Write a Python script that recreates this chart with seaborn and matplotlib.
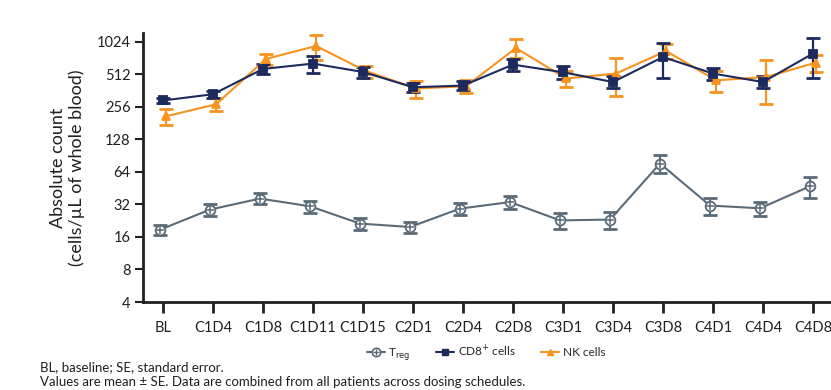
"""Absolute counts of Treg, CD8+ and NK cells by visit (log2 axis)."""

import matplotlib
matplotlib.use("Agg")
import matplotlib.pyplot as plt
from matplotlib.lines import Line2D
import numpy as np
import pandas as pd
import seaborn as sns

# Data
visits = ["BL", "C1D4", "C1D8", "C1D11", "C1D15", "C2D1", "C2D4",
          "C2D8", "C3D1", "C3D4", "C3D8", "C4D1", "C4D4", "C4D8"]

treg_mean = [18.7, 28.7, 36.3, 30.8, 21.3, 19.8, 29.3,
             33.7, 22.8, 23.2, 76.6, 31.3, 29.5, 47.2]
treg_se = [2.1, 3.9, 4.2, 3.9, 2.7, 2.2, 3.5,
           4.8, 3.9, 4.1, 14.4, 5.5, 4.3, 10.7]

cd8_mean = [294, 336, 576, 646, 540, 390, 404,
            632, 537, 436, 743, 522, 436, 800]
cd8_se = [17, 25, 58, 120, 60, 35, 38,
          79, 74, 56, 263, 68, 56, 325]

nk_mean = [210, 271, 713, 940, 550, 380, 398,
           900, 470, 522, 845, 452, 485, 660]
nk_se = [35, 37, 80, 240, 70, 70, 56,
         180, 80, 200, 130, 100, 210, 115]

TREG_COLOR = "#5b6a78"
CD8_COLOR = "#1c2a5e"
NK_COLOR = "#f7931e"
INK = "#231f20"


def main():
    sns.set_style("ticks")
    plt.rcParams["font.family"] = ["Lato", "DejaVu Sans"]

    pos = np.arange(len(visits))
    df = pd.DataFrame({
        "pos": np.concatenate([pos - 0.06, pos, pos + 0.06]),
        "value": treg_mean + cd8_mean + nk_mean,
        "se": treg_se + cd8_se + nk_se,
        "series": ["treg"] * len(visits) + ["cd8"] * len(visits) + ["nk"] * len(visits),
    })

    fig = plt.figure(figsize=(8.31, 3.9), dpi=100)
    ax = fig.add_axes([143 / 831, 88 / 390, 690 / 831, 269 / 390])

    styles = {
        "treg": dict(color=TREG_COLOR, marker="o", ms=7, mfc="white"),
        "nk": dict(color=NK_COLOR, marker="^", ms=6, mfc=NK_COLOR),
        "cd8": dict(color=CD8_COLOR, marker="s", ms=6, mfc=CD8_COLOR),
    }

    for name in ["treg", "nk", "cd8"]:
        sub = df[df["series"] == name]
        st = styles[name]
        ax.errorbar(sub["pos"], sub["value"], yerr=sub["se"], fmt="none",
                    ecolor=st["color"], elinewidth=1.6, capsize=5, capthick=2,
                    zorder=2)
        sns.lineplot(data=sub, x="pos", y="value", color=st["color"],
                     marker=st["marker"], markersize=st["ms"],
                     markerfacecolor=st["mfc"], markeredgecolor=st["color"],
                     markeredgewidth=1.3, linewidth=1.5, errorbar=None,
                     ax=ax, zorder=3)
        if name == "treg":
            sns.scatterplot(data=sub, x="pos", y="value", marker="+", s=30,
                            color=st["color"], linewidth=1.1, ax=ax, zorder=4)

    ax.set_yscale("log", base=2)
    ax.set_ylim(4, 1240)
    yt = [4, 8, 16, 32, 64, 128, 256, 512, 1024]
    ax.set_yticks(yt)
    ax.set_yticklabels([str(v) for v in yt])
    ax.minorticks_off()
    ax.set_xlim(-0.4, 13.4)
    ax.set_xticks(pos)
    ax.set_xticklabels(visits)

    ax.tick_params(axis="x", length=8, width=2, color=INK, labelsize=10.5,
                   labelcolor=INK, pad=6)
    ax.tick_params(axis="y", length=6, width=1.5, color=INK, labelsize=10.5,
                   labelcolor=INK, pad=3)
    for side in ["left", "bottom"]:
        ax.spines[side].set_linewidth(2)
        ax.spines[side].set_color(INK)
    sns.despine(ax=ax)

    ax.set_xlabel("")
    ax.set_ylabel("Absolute count\n(cells/µL of whole blood)", fontsize=13,
                  color=INK, labelpad=8)

    handles = [
        (Line2D([], [], color=TREG_COLOR, marker="o", ms=6, mfc="white",
                mew=1.2, lw=1.5),
         Line2D([], [], color=TREG_COLOR, marker="+", ms=5, mew=1.0, lw=0)),
        Line2D([], [], color=CD8_COLOR, marker="s", ms=5, lw=1.5),
        Line2D([], [], color=NK_COLOR, marker="^", ms=5, lw=1.5),
    ]
    labels = [r"T$_{\mathrm{reg}}$", r"CD8$^{+}$ cells", "NK cells"]
    fig.legend(handles, labels, loc="center", bbox_to_anchor=(0.585, 0.095),
               ncol=3, frameon=False, fontsize=8.5, handlelength=1.5,
               handletextpad=0.3, columnspacing=2.2)

    fig.text(40 / 831, 1 - 367 / 390, "BL, baseline; SE, standard error.",
             fontsize=9.5, color=INK, va="center")
    fig.text(40 / 831, 1 - 382 / 390,
             "Values are mean ± SE. Data are combined from all patients across dosing schedules.",
             fontsize=9.5, color=INK, va="center")

    fig.savefig("out.png", dpi=100)
    plt.close(fig)


if __name__ == "__main__":
    main()
